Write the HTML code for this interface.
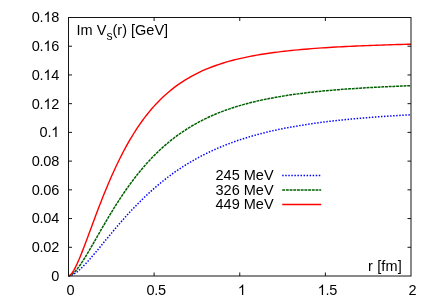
<!DOCTYPE html>
<html><head><meta charset="utf-8"><title>Im Vs(r)</title>
<style>
html,body{margin:0;padding:0;background:#fff;}
body{width:436px;height:305px;overflow:hidden;}
svg{display:block;will-change:transform;}
g.t{filter:grayscale(1);}
path.one{fill:#000;stroke:none;}
text{font-family:"Liberation Sans",sans-serif;font-size:14.5px;fill:#000;font-kerning:none;}
</style></head>
<body>
<svg width="436" height="305" viewBox="0 0 436 305">
<rect x="0" y="0" width="436" height="305" fill="#ffffff"/>
<g fill="none" stroke-linejoin="round">
<path d="M68.50 276.00 L70.21 275.72 L71.92 275.09 L73.64 274.20 L75.35 273.10 L77.06 271.83 L78.78 270.42 L80.49 268.89 L82.20 267.26 L83.91 265.54 L85.62 263.75 L87.34 261.90 L89.05 259.99 L90.76 258.05 L92.47 256.06 L94.19 254.05 L95.90 252.02 L97.61 249.96 L99.33 247.90 L101.04 245.82 L102.75 243.74 L104.46 241.66 L106.17 239.58 L107.89 237.50 L109.60 235.43 L111.31 233.38 L113.03 231.33 L114.74 229.29 L116.45 227.28 L118.16 225.27 L119.88 223.29 L121.59 221.32 L123.30 219.37 L125.01 217.45 L126.72 215.55 L128.44 213.66 L130.15 211.81 L131.86 209.97 L133.57 208.16 L135.29 206.38 L137.00 204.61 L138.71 202.88 L140.43 201.17 L142.14 199.48 L143.85 197.82 L145.56 196.19 L147.28 194.58 L148.99 192.99 L150.70 191.44 L152.41 189.91 L154.12 188.40 L155.84 186.92 L157.55 185.46 L159.26 184.03 L160.98 182.62 L162.69 181.24 L164.40 179.88 L166.11 178.55 L167.82 177.24 L169.54 175.95 L171.25 174.69 L174.68 172.23 L178.10 169.87 L181.53 167.59 L184.95 165.39 L188.38 163.28 L191.80 161.25 L195.22 159.30 L198.65 157.42 L202.08 155.61 L205.50 153.88 L208.92 152.21 L212.35 150.61 L215.78 149.07 L219.20 147.59 L222.62 146.17 L226.05 144.80 L229.47 143.49 L232.90 142.24 L236.32 141.02 L239.75 139.86 L243.18 138.75 L246.60 137.67 L250.03 136.65 L253.45 135.66 L256.88 134.71 L260.30 133.80 L263.73 132.92 L267.15 132.08 L270.57 131.27 L274.00 130.49 L277.42 129.75 L280.85 129.03 L284.27 128.34 L287.70 127.67 L291.12 127.04 L294.55 126.42 L297.97 125.83 L301.40 125.26 L304.82 124.72 L308.25 124.19 L311.67 123.69 L315.10 123.20 L318.52 122.73 L321.95 122.28 L325.38 121.85 L328.80 121.43 L332.22 121.03 L335.65 120.64 L339.07 120.26 L342.50 119.90 L345.92 119.55 L349.35 119.22 L352.77 118.90 L356.20 118.58 L359.62 118.28 L363.05 117.99 L366.47 117.71 L369.90 117.44 L373.32 117.18 L376.75 116.92 L380.17 116.68 L383.60 116.44 L387.02 116.21 L390.45 115.99 L393.88 115.78 L397.30 115.57 L400.72 115.37 L404.15 115.18 L407.57 114.99 L411.00 114.81" stroke="#0000ff" stroke-width="1.5" stroke-dasharray="1.45 1.6"/>
<path d="M68.50 276.00 L70.21 275.54 L71.92 274.48 L73.64 273.00 L75.35 271.21 L77.06 269.17 L78.78 266.91 L80.49 264.49 L82.20 261.93 L83.91 259.26 L85.62 256.50 L87.34 253.67 L89.05 250.78 L90.76 247.84 L92.47 244.88 L94.19 241.90 L95.90 238.91 L97.61 235.91 L99.33 232.92 L101.04 229.93 L102.75 226.96 L104.46 224.02 L106.17 221.09 L107.89 218.19 L109.60 215.33 L111.31 212.50 L113.03 209.70 L114.74 206.94 L116.45 204.22 L118.16 201.54 L119.88 198.91 L121.59 196.32 L123.30 193.77 L125.01 191.26 L126.72 188.80 L128.44 186.39 L130.15 184.02 L131.86 181.70 L133.57 179.43 L135.29 177.20 L137.00 175.01 L138.71 172.87 L140.43 170.78 L142.14 168.73 L143.85 166.72 L145.56 164.76 L147.28 162.84 L148.99 160.97 L150.70 159.13 L152.41 157.34 L154.12 155.59 L155.84 153.88 L157.55 152.20 L159.26 150.57 L160.98 148.98 L162.69 147.42 L164.40 145.90 L166.11 144.41 L167.82 142.96 L169.54 141.55 L171.25 140.17 L174.68 137.51 L178.10 134.97 L181.53 132.56 L184.95 130.26 L188.38 128.08 L191.80 126.00 L195.22 124.03 L198.65 122.15 L202.08 120.36 L205.50 118.66 L208.92 117.04 L212.35 115.50 L215.78 114.04 L219.20 112.65 L222.62 111.33 L226.05 110.06 L229.47 108.87 L232.90 107.73 L236.32 106.64 L239.75 105.61 L243.18 104.62 L246.60 103.69 L250.03 102.79 L253.45 101.94 L256.88 101.13 L260.30 100.36 L263.73 99.63 L267.15 98.93 L270.57 98.26 L274.00 97.62 L277.42 97.01 L280.85 96.42 L284.27 95.87 L287.70 95.34 L291.12 94.83 L294.55 94.35 L297.97 93.88 L301.40 93.44 L304.82 93.01 L308.25 92.61 L311.67 92.22 L315.10 91.85 L318.52 91.49 L321.95 91.15 L325.38 90.82 L328.80 90.50 L332.22 90.20 L335.65 89.91 L339.07 89.63 L342.50 89.37 L345.92 89.11 L349.35 88.86 L352.77 88.63 L356.20 88.40 L359.62 88.18 L363.05 87.97 L366.47 87.76 L369.90 87.57 L373.32 87.38 L376.75 87.20 L380.17 87.02 L383.60 86.85 L387.02 86.69 L390.45 86.53 L393.88 86.38 L397.30 86.23 L400.72 86.09 L404.15 85.95 L407.57 85.81 L411.00 85.69" stroke="#005f00" stroke-width="1.5" stroke-dasharray="2.9 0.8"/>
<path d="M68.50 276.00 L70.21 275.14 L71.92 273.22 L73.64 270.58 L75.35 267.43 L77.06 263.87 L78.78 260.01 L80.49 255.91 L82.20 251.63 L83.91 247.22 L85.62 242.71 L87.34 238.14 L89.05 233.53 L90.76 228.91 L92.47 224.28 L94.19 219.68 L95.90 215.11 L97.61 210.58 L99.33 206.11 L101.04 201.70 L102.75 197.35 L104.46 193.08 L106.17 188.89 L107.89 184.78 L109.60 180.75 L111.31 176.82 L113.03 172.97 L114.74 169.21 L116.45 165.54 L118.16 161.96 L119.88 158.47 L121.59 155.07 L123.30 151.77 L125.01 148.55 L126.72 145.42 L128.44 142.37 L130.15 139.42 L131.86 136.54 L133.57 133.75 L135.29 131.04 L137.00 128.41 L138.71 125.86 L140.43 123.38 L142.14 120.98 L143.85 118.65 L145.56 116.40 L147.28 114.21 L148.99 112.09 L150.70 110.03 L152.41 108.04 L154.12 106.11 L155.84 104.24 L157.55 102.42 L159.26 100.67 L160.98 98.97 L162.69 97.32 L164.40 95.73 L166.11 94.19 L167.82 92.69 L169.54 91.24 L171.25 89.84 L174.68 87.17 L178.10 84.66 L181.53 82.31 L184.95 80.11 L188.38 78.05 L191.80 76.11 L195.22 74.29 L198.65 72.58 L202.08 70.98 L205.50 69.48 L208.92 68.06 L212.35 66.74 L215.78 65.49 L219.20 64.32 L222.62 63.21 L226.05 62.18 L229.47 61.20 L232.90 60.28 L236.32 59.41 L239.75 58.59 L243.18 57.82 L246.60 57.09 L250.03 56.40 L253.45 55.75 L256.88 55.14 L260.30 54.55 L263.73 54.00 L267.15 53.48 L270.57 52.99 L274.00 52.52 L277.42 52.08 L280.85 51.65 L284.27 51.25 L287.70 50.87 L291.12 50.51 L294.55 50.16 L297.97 49.84 L301.40 49.52 L304.82 49.23 L308.25 48.94 L311.67 48.67 L315.10 48.41 L318.52 48.16 L321.95 47.92 L325.38 47.70 L328.80 47.48 L332.22 47.27 L335.65 47.07 L339.07 46.88 L342.50 46.70 L345.92 46.52 L349.35 46.36 L352.77 46.19 L356.20 46.04 L359.62 45.89 L363.05 45.74 L366.47 45.60 L369.90 45.47 L373.32 45.34 L376.75 45.22 L380.17 45.10 L383.60 44.98 L387.02 44.87 L390.45 44.76 L393.88 44.66 L397.30 44.56 L400.72 44.46 L404.15 44.37 L407.57 44.27 L411.00 44.19" stroke="#ff0000" stroke-width="1.4"/>
</g>
<g fill="none" stroke="#141414" stroke-width="1">
<path d="M68.5 247.28h3.5M411.0 247.28h-3.5M68.5 218.56h3.5M411.0 218.56h-3.5M68.5 189.83h3.5M411.0 189.83h-3.5M68.5 161.11h3.5M411.0 161.11h-3.5M68.5 132.39h3.5M411.0 132.39h-3.5M68.5 103.67h3.5M411.0 103.67h-3.5M68.5 74.94h3.5M411.0 74.94h-3.5M68.5 46.22h3.5M411.0 46.22h-3.5M154.12 276.0v-3.5M154.12 17.5v3.5M239.75 276.0v-3.5M239.75 17.5v3.5M325.38 276.0v-3.5M325.38 17.5v3.5"/>
<rect x="68.5" y="17.5" width="342.5" height="258.5"/>
</g>
<g class="t">
<text x="51.19" y="280.90" letter-spacing="-0.25">0</text>
<text x="31.78" y="252.18" letter-spacing="-0.25">0.02</text>
<text x="31.78" y="223.46" letter-spacing="-0.25">0.04</text>
<text x="31.78" y="194.73" letter-spacing="-0.25">0.06</text>
<text x="31.78" y="166.01" letter-spacing="-0.25">0.08</text>
<text x="39.59" y="137.29" letter-spacing="-0.25">0.</text><path class="one" transform="translate(51.19 137) scale(0.007080 -0.007080)" d="M763 0H583V1147Q518 1085 412.5 1023T223 930V1104Q374 1175 487 1276T647 1472H763V0Z"/>
<text x="31.78" y="108.57" letter-spacing="-0.25">0.</text><path class="one" transform="translate(43.37 109) scale(0.007080 -0.007080)" d="M763 0H583V1147Q518 1085 412.5 1023T223 930V1104Q374 1175 487 1276T647 1472H763V0Z"/><text x="51.19" y="108.57" letter-spacing="-0.25">2</text>
<text x="31.78" y="79.84" letter-spacing="-0.25">0.</text><path class="one" transform="translate(43.37 80) scale(0.007080 -0.007080)" d="M763 0H583V1147Q518 1085 412.5 1023T223 930V1104Q374 1175 487 1276T647 1472H763V0Z"/><text x="51.19" y="79.84" letter-spacing="-0.25">4</text>
<text x="31.78" y="51.12" letter-spacing="-0.25">0.</text><path class="one" transform="translate(43.37 51) scale(0.007080 -0.007080)" d="M763 0H583V1147Q518 1085 412.5 1023T223 930V1104Q374 1175 487 1276T647 1472H763V0Z"/><text x="51.19" y="51.12" letter-spacing="-0.25">6</text>
<text x="31.78" y="22.40" letter-spacing="-0.25">0.</text><path class="one" transform="translate(43.37 22) scale(0.007080 -0.007080)" d="M763 0H583V1147Q518 1085 412.5 1023T223 930V1104Q374 1175 487 1276T647 1472H763V0Z"/><text x="51.19" y="22.40" letter-spacing="-0.25">8</text>
<text x="66.59" y="295.40" letter-spacing="-0.25">0</text>
<text x="146.42" y="295.40" letter-spacing="-0.25">0.5</text>
<path class="one" transform="translate(237.84 295) scale(0.007080 -0.007080)" d="M763 0H583V1147Q518 1085 412.5 1023T223 930V1104Q374 1175 487 1276T647 1472H763V0Z"/>
<path class="one" transform="translate(317.67 295) scale(0.007080 -0.007080)" d="M763 0H583V1147Q518 1085 412.5 1023T223 930V1104Q374 1175 487 1276T647 1472H763V0Z"/><text x="325.49" y="295.40" letter-spacing="-0.25">.5</text>
<text x="408.59" y="295.40" letter-spacing="-0.25">2</text>
<text x="76.6" y="35">Im V<tspan dy="4.8" font-size="12.2">s</tspan><tspan dy="-4.8">(r) [GeV]</tspan></text>
<text x="401.8" y="270.5" text-anchor="end" letter-spacing="0.12">r [fm]</text>
<text x="273.6" y="180.3" text-anchor="end">245 MeV</text>
<text x="273.6" y="194.7" text-anchor="end">326 MeV</text>
<text x="273.6" y="209.1" text-anchor="end">449 MeV</text>
</g>
<g fill="none">
<path d="M282.2 175.4H321.2" stroke="#0000ff" stroke-width="1.5" stroke-dasharray="1.45 1.6"/>
<path d="M282.2 190.0H321.2" stroke="#005f00" stroke-width="1.5" stroke-dasharray="2.9 0.8"/>
<path d="M282.2 204.5H321.2" stroke="#ff0000" stroke-width="1.4"/>
</g>
</svg>
</body></html>
